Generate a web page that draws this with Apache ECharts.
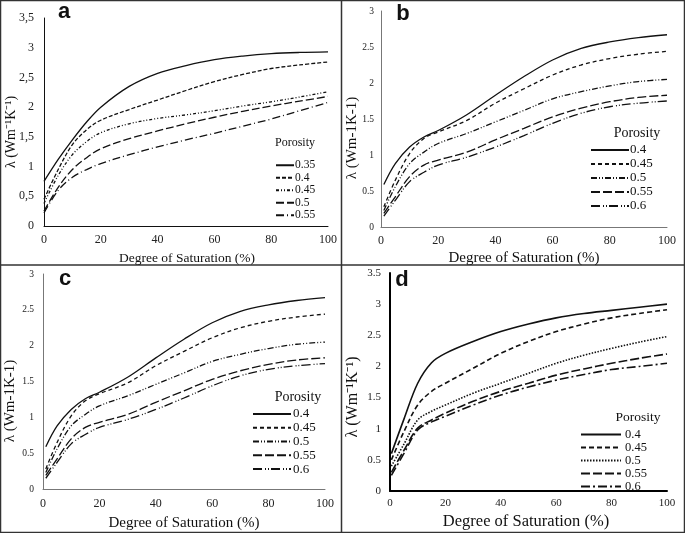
<!DOCTYPE html>
<html><head><meta charset="utf-8">
<script src="https://cdn.jsdelivr.net/npm/echarts@6/dist/echarts.min.js"></script>
<style>html,body{margin:0;padding:0;background:#fff}#c{width:685px;height:533px}</style>
</head><body><div id="c"></div>
<script>
// ---- data ----
const porosityA = ['0.35','0.4','0.45','0.5','0.55'];
const porosityB = ['0.4','0.45','0.5','0.55','0.6'];
const xA = [0,5,10,15,20,30,40,50,60,70,80,90,100];
const a035 = [0.75,1.12,1.45,1.75,2.0,2.35,2.57,2.7,2.8,2.86,2.9,2.92,2.93];
const a040 = [0.45,0.95,1.37,1.62,1.78,1.96,2.12,2.28,2.43,2.55,2.65,2.71,2.76];
const a045 = [0.38,0.85,1.2,1.42,1.57,1.72,1.81,1.87,1.94,2.02,2.09,2.17,2.26];
const a050 = [0.25,0.65,0.95,1.15,1.3,1.47,1.6,1.72,1.83,1.93,2.02,2.1,2.18];
const a055 = [0.22,0.6,0.82,0.95,1.05,1.2,1.33,1.45,1.56,1.68,1.8,1.94,2.08];
const xB = [1,5,10,15,20,30,40,50,60,70,80,90,100];
const b040 = [0.59,0.88,1.11,1.25,1.34,1.56,1.83,2.09,2.32,2.48,2.57,2.63,2.67];
const b045 = [0.28,0.65,1.02,1.23,1.32,1.48,1.72,1.92,2.11,2.25,2.34,2.4,2.44];
const b050 = [0.23,0.56,0.88,1.04,1.16,1.3,1.46,1.62,1.78,1.88,1.96,2.02,2.05];
const b055 = [0.19,0.42,0.7,0.86,0.93,1.04,1.21,1.37,1.53,1.65,1.74,1.8,1.83];
const b060 = [0.15,0.37,0.63,0.76,0.86,0.97,1.11,1.27,1.44,1.58,1.67,1.72,1.75];
const xC = [1,5,10,15,20,30,40,50,60,70,80,90,100];
const c040 = [0.59,0.88,1.11,1.26,1.35,1.56,1.83,2.09,2.32,2.48,2.57,2.63,2.67];
const c045 = [0.28,0.65,1.02,1.23,1.33,1.48,1.72,1.92,2.11,2.25,2.34,2.4,2.44];
const c050 = [0.23,0.56,0.88,1.04,1.16,1.3,1.46,1.62,1.78,1.88,1.96,2.02,2.05];
const c055 = [0.19,0.42,0.7,0.86,0.93,1.04,1.21,1.37,1.53,1.65,1.74,1.8,1.83];
const c060 = [0.15,0.37,0.63,0.76,0.86,0.97,1.11,1.27,1.44,1.58,1.67,1.72,1.75];
const xD = [0.5,5,10,15,20,30,40,50,60,70,80,90,100];
const d040 = [0.6,1.15,1.73,2.06,2.21,2.4,2.56,2.68,2.78,2.85,2.9,2.95,3.0];
const d045 = [0.5,0.95,1.38,1.6,1.73,1.97,2.21,2.4,2.56,2.68,2.78,2.85,2.91];
const d050 = [0.4,0.75,1.14,1.28,1.38,1.57,1.73,1.89,2.05,2.18,2.29,2.39,2.48];
const d055 = [0.3,0.65,1.01,1.14,1.25,1.44,1.6,1.73,1.86,1.96,2.05,2.13,2.2];
const d060 = [0.25,0.6,0.98,1.11,1.2,1.38,1.54,1.67,1.78,1.87,1.95,2.0,2.05];
const xTicks = [0,20,40,60,80,100];

// ---- styles ----
const serif = '"Liberation Serif","Times New Roman",serif';
const dashA = ['solid',[4,2],[3,2,1,2,1,2],[8,3],[8,3,1,3]];
const dashB = ['solid',[4,3],[6,2,1,2,1,2],[9,3],[9,3,1,2,1,2]];
const dashD = ['solid',[5,3],[1.5,1.5],[9,3],[9,3,2,3]];

const panels = [
  {key:'a', x:xA, ys:[a035,a040,a045,a050,a055], names:porosityA, dash:dashA,
   grid:{left:44,top:18,width:284,height:208}, yMax:3.5, comma:true, axisColor:'#111', axisW:1,
   ylabSize:12, xlabSize:12, ylabMargin:10, xlabMargin:8},
  {key:'b', x:xB, ys:[b040,b045,b050,b055,b060], names:porosityB, dash:dashB,
   grid:{left:381,top:11,width:286,height:216}, yMax:3, comma:false, axisColor:'#777', axisW:1,
   ylabSize:9.5, xlabSize:12, ylabMargin:7, xlabMargin:8},
  {key:'c', x:xC, ys:[c040,c045,c050,c055,c060], names:porosityB, dash:dashB,
   grid:{left:43,top:274,width:282,height:215}, yMax:3, comma:false, axisColor:'#777', axisW:1,
   ylabSize:9.5, xlabSize:12, ylabMargin:9, xlabMargin:9},
  {key:'d', x:xD, ys:[d040,d045,d050,d055,d060], names:porosityB, dash:dashD,
   grid:{left:390,top:273,width:277,height:218}, yMax:3.5, comma:false, axisColor:'#000', axisW:2,
   ylabSize:11, xlabSize:11, ylabMargin:9, xlabMargin:7}
];

const grids=[], xAxes=[], yAxes=[], series=[], legends=[];
panels.forEach((p,i)=>{
  grids.push(Object.assign({containLabel:false}, p.grid));
  xAxes.push({type:'value', gridIndex:i, min:0, max:100, interval:20,
    axisLine:{show:true, lineStyle:{color:p.axisColor, width:p.axisW}},
    axisTick:{show:false}, splitLine:{show:false},
    axisLabel:{fontFamily:serif, fontSize:p.xlabSize, color:'#222', margin:p.xlabMargin,
      customValues:xTicks}});
  yAxes.push({type:'value', gridIndex:i, min:0, max:p.yMax, interval:0.5,
    axisLine:{show:true, lineStyle:{color:p.axisColor, width:p.axisW}},
    axisTick:{show:false}, splitLine:{show:false},
    axisLabel:{fontFamily:serif, fontSize:p.ylabSize, color:'#222', margin:p.ylabMargin,
      formatter:v=>{let s=String(+v.toFixed(2)); return p.comma? s.replace('.',','):s;}}});
  const names=[];
  p.ys.forEach((arr,j)=>{
    const nm=p.key+'|'+p.names[j];
    names.push(nm);
    series.push({type:'line', name:nm, xAxisIndex:i, yAxisIndex:i,
      data:p.x.map((xv,k)=>[xv,arr[k]]), smooth:0.35, symbol:'none', showSymbol:false, silent:true,
      lineStyle:{color:'#111', width:p.key==='d'?1.6:1.3, type:p.dash[j]},
      itemStyle:{color:'#111'}});
  });
  legends.push({data:names, orient:'vertical', formatter:n=>n.split('|')[1], padding:0,
    itemWidth:[18,38,38,40][i], itemHeight:[12.5,14,13.8,11.8][i], itemGap:0,
    left:[275,590,252,580][i], top:[159,143,407,428][i],
    itemStyle:{color:'rgba(0,0,0,0)', borderWidth:0, opacity:0},
    lineStyle:{color:'#111', opacity:1},
    textStyle:{fontFamily:serif, fontSize:[11.5,13,13,12.5][i], color:'#111',
      lineHeight:[12.5,14,13.8,11.8][i], padding:[0,0,0,[-4,-4,-3,-1][i]]},
    selectedMode:false});
});

const gText=(x,y,txt,opt)=>Object.assign({type:'text', x, y,
  style:Object.assign({text:txt, fill:'#111', font:'14px '+serif, textAlign:'center', textVerticalAlign:'middle'}, opt.style||{})}, opt.el||{});

const graphic=[
  {type:'rect', shape:{x:0.5,y:0.5,width:684,height:532}, style:{fill:'none', stroke:'#333', lineWidth:1.5}},
  {type:'line', shape:{x1:341.5,y1:0,x2:341.5,y2:533}, style:{stroke:'#333', lineWidth:1.5}},
  {type:'line', shape:{x1:0,y1:265,x2:685,y2:265}, style:{stroke:'#333', lineWidth:1.5}},
  // panel letters
  gText(64,23,'a',{style:{font:'bold 22px "Liberation Sans",Arial,sans-serif', textVerticalAlign:'bottom'}}),
  gText(403,25,'b',{style:{font:'bold 22px "Liberation Sans",Arial,sans-serif', textVerticalAlign:'bottom'}}),
  gText(65,290,'c',{style:{font:'bold 22px "Liberation Sans",Arial,sans-serif', textVerticalAlign:'bottom'}}),
  gText(402,291,'d',{style:{font:'bold 22px "Liberation Sans",Arial,sans-serif', textVerticalAlign:'bottom'}}),
  // x titles
  gText(187,258,'Degree of Saturation (%)',{style:{font:'13.5px '+serif}}),
  gText(524,258,'Degree of Saturation (%)',{style:{font:'15px '+serif}}),
  gText(184,523,'Degree of Saturation (%)',{style:{font:'15px '+serif}}),
  gText(526,522,'Degree of Saturation (%)',{style:{font:'16.5px '+serif}}),
  // y titles
  gText(0,0,'λ (Wm⁻¹K⁻¹)',{style:{font:'14px '+serif}, el:{x:11,y:132,rotation:Math.PI/2}}),
  gText(0,0,'λ (Wm-1K-1)',{style:{font:'15px '+serif}, el:{x:352,y:138,rotation:Math.PI/2}}),
  gText(0,0,'λ (Wm-1K-1)',{style:{font:'15px '+serif}, el:{x:10,y:401,rotation:Math.PI/2}}),
  gText(0,0,'λ (Wm⁻¹K⁻¹)',{style:{font:'16px '+serif}, el:{x:353,y:397,rotation:Math.PI/2}}),
  // legend titles
  gText(295,143,'Porosity',{style:{font:'12px '+serif}}),
  gText(637,133,'Porosity',{style:{font:'14px '+serif}}),
  gText(298,397,'Porosity',{style:{font:'14px '+serif}}),
  gText(638,417,'Porosity',{style:{font:'13.5px '+serif}})
];

const chart=echarts.init(document.getElementById('c'),null,{renderer:'canvas'});
chart.setOption({animation:false, backgroundColor:'#fff', grid:grids, xAxis:xAxes, yAxis:yAxes,
  series, legend:legends, graphic});
</script></body></html>
